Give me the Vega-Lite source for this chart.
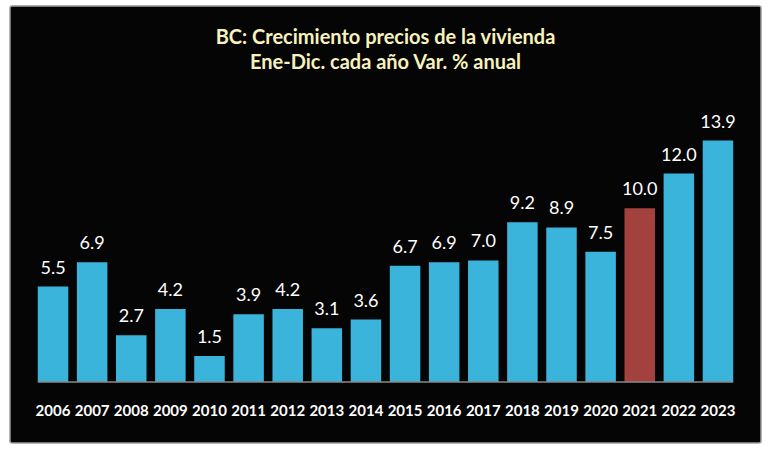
{
  "$schema": "https://vega.github.io/schema/vega-lite/v6.json",
  "width": 751,
  "height": 437,
  "autosize": {"type": "none"},
  "padding": {"left": 10, "top": 6, "right": 9, "bottom": 14},
  "background": "#ffffff",
  "title": {
    "text": ["BC: Crecimiento precios de la vivienda", "Ene-Dic. cada año Var. % anual"],
    "font": "Lato",
    "fontSize": 20,
    "fontWeight": "bold",
    "color": "#F7F2BE",
    "anchor": "middle",
    "baseline": "top",
    "lineHeight": 25,
    "offset": -67
  },
  "data": {
    "values": [
      {"year": "2006", "value": 5.5},
      {"year": "2007", "value": 6.9},
      {"year": "2008", "value": 2.7},
      {"year": "2009", "value": 4.2},
      {"year": "2010", "value": 1.5},
      {"year": "2011", "value": 3.9},
      {"year": "2012", "value": 4.2},
      {"year": "2013", "value": 3.1},
      {"year": "2014", "value": 3.6},
      {"year": "2015", "value": 6.7},
      {"year": "2016", "value": 6.9},
      {"year": "2017", "value": 7.0},
      {"year": "2018", "value": 9.2},
      {"year": "2019", "value": 8.9},
      {"year": "2020", "value": 7.5},
      {"year": "2021", "value": 10.0},
      {"year": "2022", "value": 12.0},
      {"year": "2023", "value": 13.9}
    ]
  },
  "encoding": {
    "x": {
      "field": "year",
      "type": "ordinal",
      "sort": null,
      "scale": {"paddingInner": 0.22, "paddingOuter": 0.71},
      "axis": {
        "title": null,
        "domain": false,
        "ticks": false,
        "tickSize": 0,
        "labelAngle": 0,
        "labelFont": "Lato",
        "labelFontSize": 15,
        "labelFontWeight": "bold",
        "labelColor": "#ffffff",
        "labelBaseline": "middle",
        "labelPadding": 28,
        "offset": -61,
        "grid": false
      }
    },
    "y": {
      "field": "value",
      "type": "quantitative",
      "scale": {"domain": [-3.51, 21.65], "nice": false, "zero": false},
      "axis": null
    }
  },
  "layer": [
    {
      "mark": {"type": "bar"},
      "encoding": {
        "y2": {"datum": 0},
        "color": {
          "condition": {"test": "datum.year == '2021'", "value": "#A3413F"},
          "value": "#3AB4DA"
        }
      }
    },
    {
      "mark": {"type": "text", "font": "Lato", "fontSize": 18, "color": "#ffffff", "baseline": "alphabetic", "dy": -13},
      "encoding": {
        "text": {"field": "value", "type": "quantitative", "format": ".1f"}
      }
    },
    {
      "data": {"values": [{"z": 0}]},
      "mark": {"type": "rule", "color": "#8a8a8a", "strokeWidth": 1.5},
      "encoding": {
        "x": {"datum": "2006", "type": "ordinal", "bandPosition": 0},
        "x2": {"datum": "2023", "bandPosition": 1},
        "y": {"field": "z", "type": "quantitative"}
      }
    }
  ],
  "config": {
    "view": {"fill": "#050505", "stroke": "#9a9a9a", "strokeWidth": 1.5, "cornerRadius": 2}
  }
}
